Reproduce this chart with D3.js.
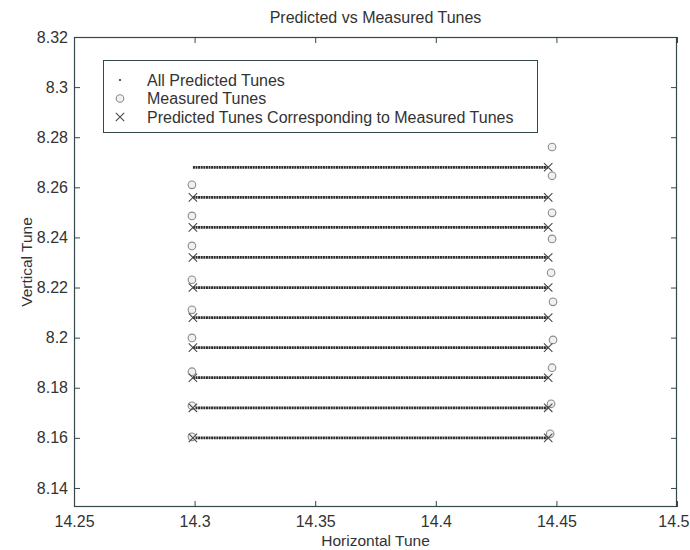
<!DOCTYPE html>
<html>
<head>
<meta charset="utf-8">
<script src="https://cdn.jsdelivr.net/npm/d3@7"></script>
<style>
  html, body { margin: 0; padding: 0; background: #ffffff; }
  svg { display: block; }
  text { font-family: "Liberation Sans", Arial, Helvetica, sans-serif; fill: #333; }
</style>
</head>
<body>
<div id="chart"></div>
<script>
// Predicted tune rows: each row is a run of predicted points at one vertical tune,
// spanning the horizontal tune range [predStartH, predEndH].
const predRowV = [8.268, 8.256, 8.244, 8.232, 8.220, 8.208, 8.196, 8.184, 8.172, 8.160];
const predStartH = 14.2993;
const predEndH = 14.4466;

// Measured tunes (horizontal, vertical)
const measLeftH = 14.2989;
const measLeftV = [8.261, 8.2486, 8.2366, 8.2231, 8.2111, 8.1999, 8.1864, 8.1728, 8.1604];
const measRightH = [14.4482, 14.4482, 14.4482, 14.4482, 14.4478, 14.4486, 14.4486, 14.4482, 14.4478, 14.4474];
const measRightV = [8.2761, 8.2646, 8.2498, 8.2394, 8.2259, 8.2143, 8.1991, 8.1880, 8.1736, 8.1616];

// Predicted tunes matched to the measured ones: left ends of rows 2..10, right ends of all rows
const corrLeftV = [8.256, 8.244, 8.232, 8.220, 8.208, 8.196, 8.184, 8.172, 8.160];
const corrRightV = [8.268, 8.256, 8.244, 8.232, 8.220, 8.208, 8.196, 8.184, 8.172, 8.160];

const xTicks = [14.25, 14.3, 14.35, 14.4, 14.45, 14.5];
const yTicks = [8.14, 8.16, 8.18, 8.2, 8.22, 8.24, 8.26, 8.28, 8.3, 8.32];
const xDomain = [14.25, 14.5];
const yDomain = [8.1324, 8.32];

const legendLabels = ["All Predicted Tunes", "Measured Tunes", "Predicted Tunes Corresponding to Measured Tunes"];

const W = 690, H = 550;
const m = { left: 74, right: 13, top: 37, bottom: 43 };
const axisColor = "#34484a";

const svg = d3.select("#chart").append("svg").attr("width", W).attr("height", H);

const x = d3.scaleLinear().domain(xDomain).range([m.left, W - m.right]);
const y = d3.scaleLinear().domain(yDomain).range([H - m.bottom, m.top]);

const plotW = W - m.left - m.right, plotH = H - m.top - m.bottom;
const tickLen = 6;

// Axes: ticks point inward on all four sides, labels on bottom and left only
const gBottom = svg.append("g").attr("transform", `translate(0,${H - m.bottom})`)
  .call(d3.axisBottom(x).tickValues(xTicks).tickSize(-tickLen).tickPadding(9).tickFormat(d3.format("")));
const gTop = svg.append("g").attr("transform", `translate(0,${m.top})`)
  .call(d3.axisTop(x).tickValues(xTicks).tickSize(-tickLen).tickFormat(""));
const gLeft = svg.append("g").attr("transform", `translate(${m.left},0)`)
  .call(d3.axisLeft(y).tickValues(yTicks).tickSize(-tickLen).tickPadding(6).tickFormat(d3.format("")));
const gRight = svg.append("g").attr("transform", `translate(${W - m.right},0)`)
  .call(d3.axisRight(y).tickValues(yTicks).tickSize(-tickLen).tickFormat(""));

[gBottom, gTop, gLeft, gRight].forEach(g => {
  g.select(".domain").remove();
  g.selectAll(".tick line").attr("stroke", axisColor).attr("stroke-width", 1);
  g.selectAll(".tick text").attr("fill", "#333").style("font-size", "16px")
    .style("font-family", "'Liberation Sans', Arial, sans-serif");
});
// the last bottom label sits at the window edge: keep it inside
gBottom.selectAll(".tick text").filter(d => d === 14.5)
  .attr("text-anchor", "end").attr("x", W - 1 - x(14.5));

svg.append("rect")
  .attr("x", m.left + 0.5).attr("y", m.top + 0.5)
  .attr("width", plotW - 1).attr("height", plotH - 1)
  .attr("fill", "none").attr("stroke", axisColor).attr("stroke-width", 1.2);

// Predicted tune rows, drawn as dense dotted runs
svg.append("g").selectAll("line").data(predRowV).join("line")
  .attr("x1", x(predStartH)).attr("x2", x(predEndH))
  .attr("y1", d => y(d)).attr("y2", d => y(d))
  .attr("stroke", "#2a2a2a").attr("stroke-width", 2.8)
  .attr("stroke-dasharray", "2,0.6");

// Measured tunes: open circles
const measured = measLeftV.map(v => [measLeftH, v])
  .concat(measRightV.map((v, i) => [measRightH[i], v]));
svg.append("g").selectAll("circle").data(measured).join("circle")
  .attr("cx", d => x(d[0])).attr("cy", d => y(d[1])).attr("r", 3.8)
  .attr("fill", "#f0f0f0").attr("stroke", "#8c8c8c").attr("stroke-width", 1.1);

// Predicted tunes corresponding to measurements: x marks
const corr = corrLeftV.map(v => [predStartH, v])
  .concat(corrRightV.map(v => [predEndH, v]));
const xs = 4.2;
const crossPath = `M${-xs},${-xs}L${xs},${xs}M${-xs},${xs}L${xs},${-xs}`;
svg.append("g").selectAll("path").data(corr).join("path")
  .attr("transform", d => `translate(${x(d[0])},${y(d[1])})`)
  .attr("d", crossPath)
  .attr("fill", "none").attr("stroke", "#4a4a4a").attr("stroke-width", 1.1);

// Legend
const lg = svg.append("g");
lg.append("rect").attr("x", 103.5).attr("y", 60.5).attr("width", 434).attr("height", 72)
  .attr("fill", "#fff").attr("stroke", axisColor).attr("stroke-width", 1);
const rowY = [80, 98.5, 117];
lg.selectAll("text.lab").data(legendLabels).join("text").attr("class", "lab")
  .attr("x", 147).attr("y", (d, i) => rowY[i]).attr("dy", "0.35em")
  .style("font-size", "16px").text(d => d);
lg.append("circle").attr("cx", 120).attr("cy", rowY[0]).attr("r", 1.1).attr("fill", "#333");
lg.append("circle").attr("cx", 120).attr("cy", rowY[1]).attr("r", 3.8)
  .attr("fill", "#f0f0f0").attr("stroke", "#8c8c8c").attr("stroke-width", 1.1);
lg.append("path").attr("transform", `translate(120,${rowY[2]})`).attr("d", crossPath)
  .attr("fill", "none").attr("stroke", "#4a4a4a").attr("stroke-width", 1.1);

// Title and axis labels
svg.append("text").attr("x", x(14.375)).attr("y", 17).attr("dy", "0.35em")
  .attr("text-anchor", "middle").style("font-size", "16px").text("Predicted vs Measured Tunes");
svg.append("text").attr("x", x(14.375)).attr("y", 541).attr("dy", "0.35em")
  .attr("text-anchor", "middle").style("font-size", "15.5px").text("Horizontal Tune");
svg.append("text").attr("transform", `translate(27,${262}) rotate(-90)`).attr("dy", "0.35em")
  .attr("text-anchor", "middle").style("font-size", "15.5px").text("Vertical Tune");
</script>
</body>
</html>
